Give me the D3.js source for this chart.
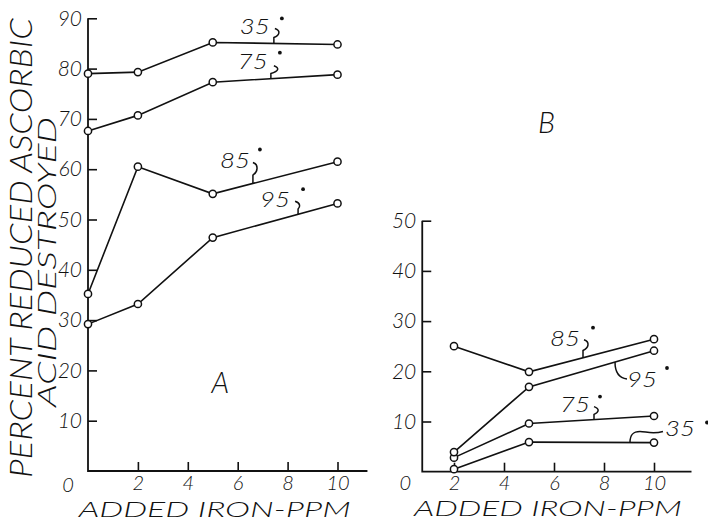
<!DOCTYPE html>
<html><head><meta charset="utf-8">
<script src="https://cdn.jsdelivr.net/npm/d3@7"></script>
<style>
html,body{margin:0;padding:0;background:#fff;}
svg{display:block;}
text{font-family:Lato,"DejaVu Sans",sans-serif;font-style:italic;font-weight:300;fill:#111;}
</style></head>
<body>
<svg id="c" width="708" height="522"></svg>
<script>
// ---- data ----
const ironA = [0, 2, 5, 10];
const seriesA_35 = [79.0, 79.3, 85.2, 84.8];
const seriesA_75 = [67.6, 70.7, 77.3, 78.8];
const seriesA_85 = [35.2, 60.5, 55.1, 61.5];
const seriesA_95 = [29.2, 33.2, 46.4, 53.2];

const ironB = [2, 5, 10];
const seriesB_85 = [25.0, 19.9, 26.4];
const seriesB_95 = [3.9, 16.9, 24.1];
const seriesB_75 = [2.8, 9.6, 11.1];
const seriesB_35 = [0.5, 5.9, 5.8];

const temps = ["35", "75", "85", "95"];
const ticksXA = [2, 4, 6, 8, 10];
const ticksYA = [10, 20, 30, 40, 50, 60, 70, 80, 90];
const ticksXB = [2, 4, 6, 8, 10];
const ticksYB = [10, 20, 30, 40, 50];
const yTitle1 = "PERCENT REDUCED ASCORBIC";
const yTitle2 = "ACID DESTROYED";
const xTitle = "ADDED IRON-PPM";

// ---- drawing ----
const svg = d3.select("#c");
const ink = "#111";
const FONT = "Lato,'DejaVu Sans',sans-serif";

const xA = d3.scaleLinear().domain([0, 10]).range([88, 337.5]);
const yA = d3.scaleLinear().domain([0, 90]).range([471, 18.3]);
const xB = d3.scaleLinear().domain([2, 10]).range([454, 654]);
const yB = d3.scaleLinear().domain([0, 50]).range([471.7, 220.7]);

function panel(x, y, xStart, xEnd, yTop, ticksX, ticksY, pad) {
  const g = svg.append("g");
  g.append("path")
    .attr("d", `M${x(xStart)},${y(yTop)}L${x(xStart)},${y(0)}L${x(xEnd)},${y(0)}`)
    .attr("fill", "none").attr("stroke", ink).attr("stroke-width", 1.8);
  const ay = g.append("g").attr("transform", `translate(${x(xStart)},0)`)
    .call(d3.axisLeft(y).tickValues(ticksY).tickSize(-9).tickPadding(6).tickFormat(d3.format("d")));
  const ax = g.append("g").attr("transform", `translate(0,${y(0)})`)
    .call(d3.axisBottom(x).tickValues(ticksX).tickSize(-9).tickPadding(pad).tickFormat(d3.format("d")));
  [ay, ax].forEach(a => {
    a.select(".domain").remove();
    a.selectAll(".tick line").attr("stroke", ink).attr("stroke-width", 1.6);
    a.selectAll(".tick text").attr("fill", ink).style("font-size", "21px")
      .style("font-family", FONT).style("font-style", "italic").style("font-weight", "300");
  });
  ax.selectAll(".tick text").style("font-size", "20px").attr("dy", "0.71em");
  return g;
}

const gA = panel(xA, yA, 0, 11.2, 90, ticksXA, ticksYA, 5);
const gB = panel(xB, yB, 0.73, 11.5, 50, ticksXB, ticksYB, 4);

// origin "0" labels
svg.append("text").attr("x", xA(0) - 20).attr("y", yA(0) + 21).attr("text-anchor", "middle")
  .style("font-size", "20px").text("0");
svg.append("text").attr("x", xB(0.73) - 17).attr("y", yB(0) + 18).attr("text-anchor", "middle")
  .style("font-size", "20px").text("0");

// x titles
svg.append("text").attr("x", (xA(0) + xA(10)) / 2 + 2).attr("y", 517).attr("text-anchor", "middle")
  .style("font-size", "22px").attr("textLength", 272).attr("lengthAdjust", "spacingAndGlyphs").text(xTitle);
svg.append("text").attr("x", (xB(0.73) + xB(11.5)) / 2 - 9).attr("y", 516).attr("text-anchor", "middle")
  .style("font-size", "22px").attr("textLength", 268).attr("lengthAdjust", "spacingAndGlyphs").text(xTitle);

// y titles
svg.append("text").attr("transform", "translate(32,248) rotate(-90)").attr("text-anchor", "middle")
  .style("font-size", "32px").attr("textLength", 460).attr("lengthAdjust", "spacingAndGlyphs").text(yTitle1);
svg.append("text").attr("transform", "translate(56,262) rotate(-90)").attr("text-anchor", "middle")
  .style("font-size", "25px").attr("textLength", 290).attr("lengthAdjust", "spacingAndGlyphs").text(yTitle2);

// panel letters
svg.append("text").attr("x", xA(5.3)).attr("y", yA(15.5)).attr("text-anchor", "middle")
  .style("font-size", "29px").text("A");
svg.append("text").attr("x", xB(5.7)).attr("y", yB(67.5)).attr("text-anchor", "middle")
  .style("font-size", "29px").text("B");

// series
const line = (x, y) => d3.line().x(d => x(d[0])).y(d => y(d[1]));
function drawSeries(g, x, y, xs, vals) {
  const pts = xs.map((v, i) => [v, vals[i]]);
  g.append("path").datum(pts).attr("d", line(x, y)).attr("fill", "none")
    .attr("stroke", ink).attr("stroke-width", 1.6);
  g.selectAll(null).data(pts).enter().append("circle")
    .attr("cx", d => x(d[0])).attr("cy", d => y(d[1])).attr("r", 3.6)
    .attr("fill", "#fff").attr("stroke", ink).attr("stroke-width", 1.5);
  return pts;
}
const seriesA = { "35": seriesA_35, "75": seriesA_75, "85": seriesA_85, "95": seriesA_95 };
const seriesB = { "35": seriesB_35, "75": seriesB_75, "85": seriesB_85, "95": seriesB_95 };
temps.forEach(t => drawSeries(gA, xA, yA, ironA, seriesA[t]));
temps.forEach(t => drawSeries(gB, xB, yB, ironB, seriesB[t]));

// annotations: anchor on line at data-x, label placement relative to anchor
function interp(xs, vals, xv) {
  for (let i = 0; i < xs.length - 1; i++) {
    if (xv >= xs[i] && xv <= xs[i + 1]) {
      const f = (xv - xs[i]) / (xs[i + 1] - xs[i]);
      return vals[i] + f * (vals[i + 1] - vals[i]);
    }
  }
  return vals[vals.length - 1];
}
const annA = [
  { t: "35", at: 7.45, kind: "up", tx: -4, ty: -9, dx: 8, dy: -25, h: 15, cx: 3 },
  { t: "75", at: 7.33, kind: "up", tx: -3, ty: -10, dx: 9, dy: -26, h: 13, cx: 5 },
  { t: "85", at: 6.61, kind: "up", tx: -3, ty: -15, dx: 7, dy: -34, h: 21, cx: 2 },
  { t: "95", at: 8.42, kind: "up", tx: -8, ty: -7, dx: 5, dy: -25, h: 13, cx: -1 }
];
const annB = [
  { t: "85", at: 7.16, kind: "up", tx: -3, ty: -12, dx: 10, dy: -30, h: 18, cx: 3 },
  { t: "95", at: 8.44, kind: "down", tx: 12, ty: 25, dx: 52, dy: 6 },
  { t: "75", at: 7.6, kind: "up", tx: -4, ty: -8, dx: 6, dy: -23, h: 13, cx: 2 },
  { t: "35", at: 9.04, kind: "tilde", tx: 35, ty: -6, dx: 77, dy: -20 }
];
function annotate(x, y, xs, series, list) {
  list.forEach(a => {
    const ax = x(a.at), ay = y(interp(xs, series[a.t], a.at));
    let d;
    if (a.kind === "up") {
      const top = ay - a.h;
      d = `M${ax + a.cx - 2},${top} C${ax + a.cx + 4},${top + 2} ${ax + a.cx + 3},${top + a.h * 0.45} ${ax},${top + a.h * 0.6} L${ax},${ay}`;
    } else if (a.kind === "down") {
      d = `M${ax},${ay} C${ax},${ay + 11} ${ax + 4},${ay + 16} ${ax + 12},${ay + 17}`;
    } else {
      d = `M${ax},${ay} C${ax},${ay - 8} ${ax + 3},${ay - 11} ${ax + 10},${ay - 11} C${ax + 16},${ay - 11} ${ax + 22},${ay - 8} ${ax + 33},${ay - 11}`;
    }
    svg.append("path").attr("d", d).attr("fill", "none").attr("stroke", ink).attr("stroke-width", 1.5);
    svg.append("text").attr("x", ax + a.tx).attr("y", ay + a.ty)
      .attr("text-anchor", a.kind === "up" ? "end" : "start")
      .attr("textLength", 30).attr("lengthAdjust", "spacingAndGlyphs")
      .style("font-size", "22px").text(a.t);
    svg.append("circle").attr("cx", ax + a.dx).attr("cy", ay + a.dy).attr("r", 1.9).attr("fill", ink);
  });
}
annotate(xA, yA, ironA, seriesA, annA);
annotate(xB, yB, ironB, seriesB, annB);
</script>
</body></html>
